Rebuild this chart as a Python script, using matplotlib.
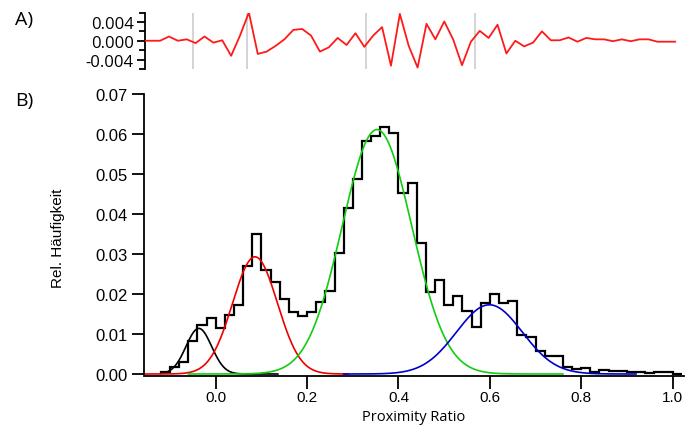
import numpy as np
import matplotlib
matplotlib.use("Agg")
import matplotlib.pyplot as plt
from matplotlib.ticker import FixedLocator

plt.rcParams['axes.unicode_minus'] = False

# ---------------- data ----------------
# histogram (bin width 0.02), left edges start at -0.12
hist_start = -0.12
bin_width = 0.02
hist_values = [0.0005, 0.0018, 0.0029, 0.0082, 0.0123, 0.0141, 0.0116, 0.0148,
               0.0173, 0.0271, 0.0350, 0.0261, 0.0229, 0.0188, 0.0154, 0.0146,
               0.0154, 0.0179, 0.0208, 0.0303, 0.0414, 0.0488, 0.0582, 0.0594,
               0.0618, 0.0603, 0.0453, 0.0478, 0.0328, 0.0204, 0.0236, 0.0172,
               0.0196, 0.0157, 0.0117, 0.0177, 0.0201, 0.0177, 0.0183, 0.0097,
               0.0092, 0.0057, 0.0046, 0.0045, 0.0018, 0.0013, 0.0015, 0.0004,
               0.0009, 0.0007, 0.0007, 0.0005, 0.0006, 0.0002, 0.0006, 0.0006,
               0.0001]

# Gaussian fit components: amplitude, centre, sigma, drawn range
fit_names = ["black", "red", "green", "blue"]
fit_amp = [0.0114, 0.0293, 0.0611, 0.0173]
fit_mu = [-0.037, 0.086, 0.353, 0.599]
fit_sigma = [0.028, 0.049, 0.076, 0.072]
fit_lo = [-0.12, -0.155, -0.06, 0.28]
fit_hi = [0.136, 0.29, 0.76, 0.92]
fit_colors = ["#000000", "#ee0000", "#11cc11", "#0000cc"]

# residuals (panel A), at bin centres starting -0.15
resid_start = -0.15
resid_values = [0.0, 0.0, 0.0, 0.0009, 0.0, 0.0003, -0.0005, 0.0009, -0.0004,
                0.0001, -0.0032, 0.0011, 0.0060, -0.0028, -0.0023, -0.0011,
                0.0003, 0.0023, 0.0025, 0.0011, -0.0023, -0.0014, 0.0006,
                -0.0009, 0.0016, -0.0013, 0.0011, 0.0029, -0.0053, 0.0057,
                -0.0011, -0.0057, 0.0036, 0.0003, 0.0041, 0.0003, -0.0052,
                -0.0002, 0.0021, 0.0006, 0.0034, -0.0027, 0.0, -0.0012,
                -0.0004, 0.0020, 0.0001, 0.0001, 0.0007, -0.0002, 0.0006,
                0.0003, 0.0003, -0.0001, 0.0003, -0.0001, 0.0003, 0.0003,
                -0.0002, -0.0002, -0.0002]

x_ticks = [0.0, 0.2, 0.4, 0.6, 0.8, 1.0]
x_ticklabels = ["0.0", "0.2", "0.4", "0.6", "0.8", "1.0"]
y_ticks = [0.00, 0.01, 0.02, 0.03, 0.04, 0.05, 0.06, 0.07]
y_ticklabels = ["0.00", "0.01", "0.02", "0.03", "0.04", "0.05", "0.06", "0.07"]
res_ticks = [-0.004, 0.0, 0.004]
res_ticklabels = ["-0.004", "0.000", "0.004"]

# ---------------- figure ----------------
W, H = 687, 439
fig = plt.figure(figsize=(W / 100, H / 100), dpi=100)

def frac(x0, y0, x1, y1):
    return [x0 / W, 1 - y1 / H, (x1 - x0) / W, (y1 - y0) / H]

tick_font = "Liberation Sans"
label_font = "Open Sans"

# ---- panel B ----
axb = fig.add_axes(frac(144, 95, 684, 377))
edges = hist_start + bin_width * np.arange(len(hist_values) + 1)
axb.stairs(hist_values, edges, color="black", lw=1.6, baseline=0)

for amp, mu, sig, lo, hi, col in zip(fit_amp, fit_mu, fit_sigma, fit_lo, fit_hi, fit_colors):
    xx = np.linspace(lo, hi, 400)
    axb.plot(xx, amp * np.exp(-(xx - mu) ** 2 / (2 * sig ** 2)), color=col, lw=1.2)

axb.set_xlim(-0.157, 1.025)
axb.set_ylim(-0.0005, 0.07)
for s in ["top", "right"]:
    axb.spines[s].set_visible(False)
for s in ["left", "bottom"]:
    axb.spines[s].set_linewidth(1.3)
axb.spines["left"].set_bounds(0.0, 0.07)
axb.set_xticks(x_ticks)
axb.set_xticklabels(x_ticklabels, fontfamily=tick_font, fontsize=11)
axb.set_yticks(y_ticks)
axb.set_yticklabels(y_ticklabels, fontfamily=tick_font, fontsize=12)
axb.tick_params(axis="y", direction="out", length=9, width=1.3, pad=3)
axb.tick_params(axis="x", direction="out", length=9, width=1.3, pad=1)

fig.text(414 / W, 1 - 410 / H, "Proximity Ratio", fontfamily=label_font,
         fontsize=10.5, ha="center", va="top")
fig.text(58 / W, 1 - 238 / H, "Rel. Häufigkeit", fontfamily=tick_font,
         fontsize=11, ha="center", va="center", rotation=90)

# ---- panel A ----
axa = fig.add_axes(frac(145, 13.5, 684, 70))
axa.set_xlim(-0.144, 1.07)
axa.set_ylim(-0.006, 0.006)
for mu in fit_mu:
    axa.axvline(mu, color="#d4d4d4", lw=1.4, zorder=1)
rx = resid_start + bin_width * np.arange(len(resid_values))
axa.plot(rx, resid_values, color="#ff1a1a", lw=1.3, zorder=3, clip_on=True)
for s in ["top", "right", "bottom"]:
    axa.spines[s].set_visible(False)
axa.spines["left"].set_linewidth(1.3)
axa.set_xticks([])
axa.yaxis.set_major_locator(FixedLocator(res_ticks))
axa.set_yticklabels(res_ticklabels, fontfamily=label_font, fontsize=12)
axa.yaxis.set_minor_locator(FixedLocator([-0.006, -0.002, 0.002, 0.006]))
axa.tick_params(axis="y", which="major", direction="out", length=6, width=1.3, pad=2)
axa.tick_params(axis="y", which="minor", direction="out", length=4, width=1.3)

fig.text(15 / W, 1 - 20 / H, "A)", fontfamily=label_font, fontsize=14, va="center")
fig.text(15 / W, 1 - 101 / H, "B)", fontfamily=label_font, fontsize=14, va="center")

fig.savefig("out.png", dpi=100)
